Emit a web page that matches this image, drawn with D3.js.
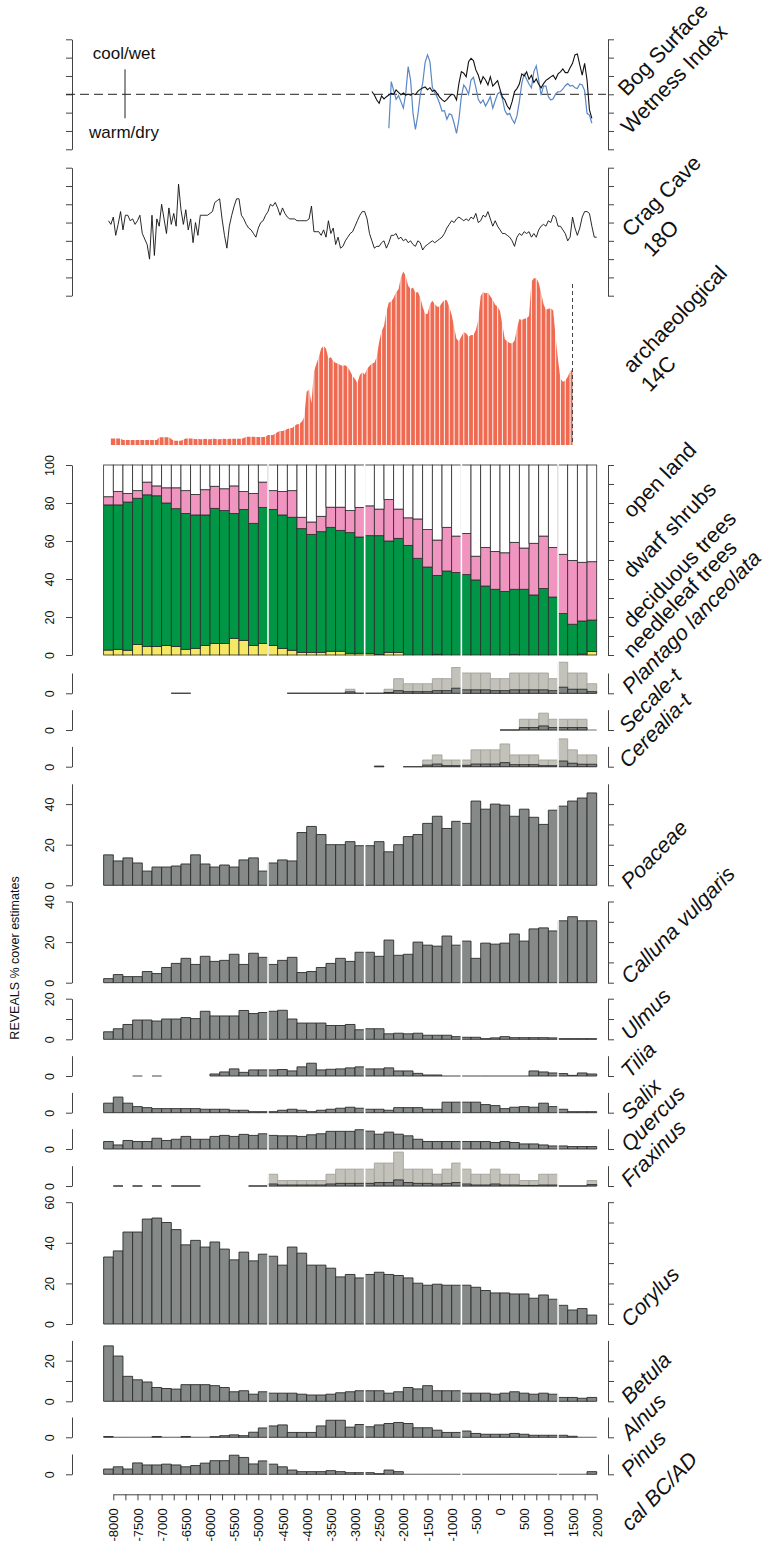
<!DOCTYPE html>
<html>
<head>
<meta charset="utf-8">
<script src="https://cdn.jsdelivr.net/npm/d3@7"></script>
<style>
body { margin: 0; background: #fff; }
svg { display: block; }
text { font-family: "Liberation Sans", Arial, sans-serif; fill: #111; }
</style>
</head>
<body>
<script>
// ---- data ----
// 200-yr bins, -8200 .. 2000
const binStart = d3.range(51).map(i => -8200 + 200 * i);

// bog surface wetness (50-yr steps from -2650)
const bogYears = d3.range(92).map(i => -2650 + 50 * i);
const bogBlack = [0.15,-0.04,-0.31,-0.49,-0.09,-0.25,-0.13,-0.04,0.05,0,
  0.24,0.11,-0.02,0.07,-0.04,0,-0.05,0.04,-0.02,0.16,
  0.27,0.35,0.4,0.25,0.36,0.16,0.22,0.04,-0.15,-0.29,
  -0.4,-0.29,-0.13,0,-0.04,-0.31,0.6,1.24,1.15,0.96,
  1.78,1.96,1.84,1.33,1.05,0.6,0.96,0.78,0.51,0.96,
  0.45,0.6,0.75,0.27,-0.16,-0.31,-0.64,-0.82,-0.4,0.15,
  0.31,0.56,1.11,1.0,1.22,0.82,1.04,0.64,0.84,0.55,
  0.35,0.58,0.76,0.85,0.95,1.04,0.82,1.11,1.22,1.38,
  1.18,1.18,1.45,1.69,2.15,2.2,1.6,1.05,1.69,0.78,
  -0.85,-1.31];
const bogBlueYears = d3.range(85).map(i => -2300 + 50 * i);
const bogBlue = [-1.85,0.69,0.2,-0.27,-0.07,-0.4,-0.76,0.05,1.51,0.78,
  -1.04,-1.91,-1.13,-0.04,0.6,1.73,2.15,1.78,0.38,0.09,
  -0.16,-0.49,-0.91,-0.89,-1.36,-1.07,-1.13,-1.58,-2.13,-1.36,
  -0.13,0.51,0.31,0,0.78,0.93,0.38,-0.27,-0.49,-0.31,
  -0.64,-0.4,-0.13,-0.76,-0.35,0.02,0.13,-0.24,-0.89,-1.11,
  -1.04,-1.36,-1.58,-1.18,-0.4,0.6,1.11,0.82,0.56,0.35,
  1.24,1.55,0.78,-0.04,0.45,0.45,-0.13,-0.31,-0.24,0.02,
  0.13,0.15,0.29,0.47,0.58,0.45,0.49,0.36,0.31,0.56,
  0.51,0.2,-1.04,-1.13,-1.58];

// Crag Cave 18O (50-yr steps from -8100)
const cragYears = d3.range(203).map(i => -8100 + 50 * i);
const crag = [4.1,3.9,4.3,3.3,3.9,4.6,3.6,4.4,4.4,4.1,
  4.2,3.9,4.1,4.4,3.4,3.1,2.8,2.0,4.4,2.2,
  4.2,3.8,5.0,4.2,3.4,4.8,3.9,4.5,3.8,6.1,
  4.7,3.9,4.7,3.6,4.2,2.9,4.0,3.3,4.4,4.4,
  4.4,4.4,4.5,4.6,5.1,5.2,5.3,4.2,3.3,2.6,
  3.8,4.4,4.9,5.3,5.3,4.4,4.2,3.9,3.7,3.6,
  3.4,3.2,3.7,4.0,4.1,4.4,4.6,5.0,4.9,5.1,
  4.8,4.4,4.8,4.5,4.3,4.2,4.2,4.2,4.1,4.1,
  4.1,4.1,4.1,4.2,4.9,3.5,3.5,3.5,3.3,3.6,
  3.2,4.1,3.4,3.7,2.8,3.2,2.6,2.7,3.0,3.2,
  3.4,3.5,3.8,4.1,4.4,4.6,4.6,4.2,3.4,3.0,
  2.6,2.7,2.7,2.9,3.0,2.6,2.9,3.3,3.3,3.4,
  3.1,3.2,3.0,3.1,2.9,3.0,2.8,2.7,3.0,2.9,
  2.5,2.7,2.8,2.9,3.0,2.9,3.0,3.1,3.2,3.4,
  3.7,3.9,4.1,4.0,4.2,4.3,4.2,4.1,4.2,4.1,
  4.3,4.2,4.5,4.0,4.1,4.4,4.3,4.6,4.2,3.8,
  4.1,3.8,3.6,3.4,3.4,3.3,3.2,3.0,2.7,3.2,
  3.4,3.3,3.5,3.4,3.5,3.2,3.4,3.2,3.6,3.8,
  3.9,3.8,4.1,4.0,4.4,4.3,3.8,3.8,3.6,3.4,
  3.0,3.2,4.3,3.7,3.3,3.7,4.3,4.6,4.6,4.5,
  3.8,3.2,3.2];

// archaeological 14C summed probability (50-yr steps from -8050)
const archYears = d3.range(192).map(i => -8050 + 50 * i);
const arch = [3.8,3.8,3.8,3.8,3.8,2.9,2.9,2.9,2.9,2.9,
  2.9,2.9,2.9,2.9,2.9,2.9,2.9,2.9,2.9,2.9,
  4.4,4.4,4.4,4.4,4.4,3.5,2.5,2.5,2.5,2.5,
  3.2,3.8,3.8,3.8,3.8,3.3,3.6,3.3,3.3,3.6,
  3.3,3.3,3.6,3.6,3.3,3.3,3.6,3.6,3.3,3.6,
  3.6,3.6,3.6,3.6,3.6,4.0,4.8,4.8,4.8,4.8,
  4.6,4.6,4.6,4.6,4.8,5.7,5.7,5.7,6.5,7.5,
  8.0,8.0,8.5,9.2,9.6,9.8,11.0,11.9,12.0,13.5,
  16.0,30.6,31.9,23.9,42.1,46.5,50.3,55.3,56.8,55.3,
  49.7,50.3,48.2,47.0,46.7,45.7,45.5,45.7,44.6,42.3,
  39.6,37.9,35.4,40.2,41.7,40.5,43.8,45.3,46.7,47.2,
  50.7,59.3,65.4,68.3,76.5,81.8,82.4,84.5,87.6,89.3,
  96.2,99.6,96.9,91.4,89.5,90.4,87.4,87.8,84.7,79.3,
  75.3,75.1,80.7,82.8,80.9,79.3,79.5,81.6,83.2,83.0,
  79.3,74.6,67.9,61.0,59.5,62.3,64.8,63.9,62.1,63.1,
  63.1,66.0,71.7,85.5,87.8,87.0,87.4,85.3,83.4,80.5,
  79.3,76.9,68.8,60.6,59.5,58.5,58.3,59.8,66.9,72.3,
  71.7,72.5,72.7,74.0,93.7,95.6,95.6,93.1,87.4,80.9,
  77.6,78.2,78.4,77.1,62.1,48.8,38.2,36.3,36.9,39.2,
  42.1,43.4];
const archEnd = 1500;

// land-cover groups (% cover)
const needleleaf = [2.6,3,2.5,5.5,4.5,4.5,5,4.5,3,3.5,5,6,6,8.8,7.7,5,6,
  5,3.5,2.5,1.4,1.4,1.4,2,2,0.9,0.9,
  0.8,0.3,1.4,1.4,0,0,0,0.4,0,0,
  0,0,0,0,0,0.3,0,0,0,0,
  0,0,0.5,1.8];
const deciduous = [76.4,76,78,77,79.8,79.3,75,72.5,71.5,70.2,68.7,71.2,70,65.7,68.9,64.3,71.7,
  71.6,70.2,70,65.1,62.1,63.5,65.2,63.6,63.5,61.2,
  62,62.5,58.6,60,57.7,50.9,46.3,41.5,44.2,43.4,
  42.3,39.5,36.3,34.6,33.5,34.3,34.6,31.6,35,30.5,
  21.8,16.2,17.4,16.6];
const dwarfShrubs = [4.3,7,4.5,4,6.7,5.2,8,11,12,10.8,13.3,11.6,11.5,14.5,9.4,15.7,13.3,
  9.9,12.3,14,6,6.5,8.1,10.6,12.2,11.6,15.6,
  15.7,14,21.8,15.4,14.5,20.7,19.7,18.6,23,19.2,
  21.7,12.5,20.3,19.9,20.3,24.7,21.7,27.2,27.6,26.1,
  31.2,33.6,30.9,30.7];
const openLand = [16.7,14,15,13.5,9,11,12,12,13.5,15.5,13,11.2,12.5,11,14,15,9,
  13.5,14,13.5,27.5,30,27,22.2,22.2,24,22.3,
  21.5,23.2,18.2,23.2,27.8,28.4,34,39.5,32.8,37.4,
  36,48,43.4,45.5,46.2,40.7,43.7,41.2,37.4,43.4,
  47,50.2,51.2,50.9];
const coverKeys = ["needleleaf", "deciduous", "dwarf", "open"];

// taxa (% cover); *X = exaggerated curve
const plantagoX = [null,null,null,null,null,null,null,0,0,null,null,null,null,null,null,null,null,
  null,null,0,0,0,0,0,0,2,0,
  0,0,2,7.2,4.7,4.7,4.7,7.2,7.2,12.7,
  10,10,10,7.2,7.2,10,10,10,10,7.2,
  15.3,10,10,4.7];
const plantago = [null,null,null,null,null,null,null,0,0,null,null,null,null,null,null,null,null,
  null,null,0,0,0,0,0,0,0.7,0,
  0,0,0.4,1.3,0.8,0.8,0.8,1.3,1.3,2.5,
  1.7,1.7,1.7,1.3,1.3,1.7,1.7,1.7,1.7,1.3,
  3,2,2,0.8];
const secaleX = [null,null,null,null,null,null,null,null,null,null,null,null,null,null,null,null,null,
  null,null,null,null,null,null,null,null,null,null,
  null,null,null,null,null,null,null,null,null,null,
  null,null,null,null,0,0,5.3,5.3,8.3,5.3,
  5.3,5.3,5.3,0];
const secale = [null,null,null,null,null,null,null,null,null,null,null,null,null,null,null,null,null,
  null,null,null,null,null,null,null,null,null,null,
  null,null,null,null,null,null,null,null,null,null,
  null,null,null,null,0,0,1.2,1.2,2,1.2,
  1.2,1.2,1.2,null];
const cerealiaX = [null,null,null,null,null,null,null,null,null,null,null,null,null,null,null,null,null,
  null,null,null,null,null,null,null,null,null,null,
  null,0,null,null,0,0,3.3,5.8,3.3,3.3,
  3.3,8.3,8.3,8.3,11.2,5.8,5.8,5.8,3.3,3.3,
  13.7,8.3,5.8,5.8];
const cerealia = [null,null,null,null,null,null,null,null,null,null,null,null,null,null,null,null,null,
  null,null,null,null,null,null,null,null,null,null,
  null,0.3,null,null,0,0,0.8,1.3,0.5,0.5,
  0.7,1.3,1.3,1.3,2,1,1,1,0.5,0.5,
  2.8,1.7,1.2,1.2];
const poaceae = [15,12,13.5,11,7,9,9,9.5,10.5,15,10.5,9,10,9,12.5,13.5,7,
  11,12.5,12,26,29,25,20,20,21.5,19.5,
  19.5,21.5,16.5,20,24,25,30.5,34,28,31.5,
  30.5,41.5,37.5,40,39.5,34,37.5,33.5,30,37,
  39,41.5,43,45.5];
const calluna = [2,4,3,3,5.5,4.5,7.5,9.5,12,9,13,10.5,11,14,9,14.5,12.5,
  9,11,12.5,5,5.5,7.5,9.5,12,10.5,15,
  15,13,21,13.5,14,20,18.5,18,23,18.5,
  20.5,12,19.5,19,19.5,24,20.5,26.5,27,25.5,
  30.5,32.5,30.5,30.5];
const ulmus = [3.7,5.2,7.3,9.5,9.5,9,10,10,10.7,10.2,13.8,11.5,11.5,11.5,14.2,12.7,13.2,
  13.8,14.3,10,8,8,8,6.8,6.8,7.3,4.7,
  5.2,5.2,2.7,3,2.7,3,2,2,2,1.3,
  1,1,0.3,0.7,1.3,0.8,0.8,0.8,0.8,0.7,
  0.3,0.3,0.3,0.3];
const tilia = [null,null,null,0,null,0,null,null,null,null,null,1,2,3.5,1.8,3,3,
  3,3.2,2.5,4.5,6.3,3,3.3,3.5,4,4.5,
  3.5,3.5,4,2.5,2.5,1.3,0.5,0.5,0,0,
  0,0,0,0,0,0,0,2.5,2,1.5,
  1.2,0.3,1.5,1];
const salix = [4.7,7.7,4.7,3,2.5,2,2,2,2,2,1.7,1.7,1.7,1.2,1.2,0.5,0.5,
  0.5,1.2,1.7,1.2,0.5,1.2,1.7,2.2,2.7,2.2,
  1.7,1.7,1.2,2.5,2.5,2.5,1.7,1.7,5.2,5.2,
  5.2,5.2,4,3.5,2,2.7,3,2.7,4.7,3,
  1.7,0.5,0.5,0.5];
const quercus = [3.7,2,4.2,3.7,3.7,5.3,4.2,4.8,6.2,4.8,4.8,6.2,6.7,6.2,7.2,6.7,7.5,
  6.7,6.5,6.5,6.2,7,7.5,8.7,8.7,8.7,9.5,
  8.8,7.3,8.3,7.3,6.5,4.8,3.7,3.7,3.7,3.7,
  3.7,3.7,3.7,3.2,3.7,3.2,2.5,2.5,2,1.5,
  1.5,1.2,1.2,1.2];
const fraxinusX = [null,0,null,0,null,0,null,0,0,0,null,null,null,null,null,0,0,
  5.8,2.7,2.7,2.7,2.7,2.7,5.8,8.3,8.3,8.3,
  8.3,11.3,11.3,16.7,8.3,8.3,8.3,5.8,8.3,11.3,
  8.3,5.8,5.8,8.3,5.8,5.8,2.7,2.7,5.8,5.8,
  0,0,0,2.7];
const fraxinus = [null,0,null,0,null,0,null,0,0,0,null,null,null,null,null,0,0,
  1,0.5,0.5,0.5,0.5,0.5,1,1.3,1.3,1.3,
  1.3,1.7,1.7,3,1.7,1.3,1.3,1,1.3,1.7,
  1,0.5,0.5,1,0.5,0.5,0.3,0.3,0.5,0.5,
  0,0,0,0.7];
const corylus = [33,36,45.3,45.3,51.7,52.2,50,46.5,39,41.2,37.9,40.4,36.9,31.6,35.4,31.1,34.4,
  33.4,29,37.9,34.9,29,29,27.5,23.2,24.4,22.7,
  24.4,25.5,24.4,23.9,22.7,20.1,19.1,19.6,19.1,19.1,
  19.1,18.1,16.5,15.3,15.3,14.8,14.8,12.7,14.3,12.2,
  9.2,6.9,7.6,4.4];
const betula = [27.3,22.3,12.3,10.6,9.5,6.8,6.3,6,8.2,8.2,8.2,7.7,6.8,4.7,5.2,3.5,4.7,
  4,4,4,3.5,3.1,3.1,3.5,4.2,4.7,5.2,
  5.2,5.2,4,4.7,6.8,6.1,7.7,5.2,5.2,5.2,
  4,4,4,3.5,4,4.7,4,3.5,4,3.5,
  1.9,1.9,1.5,1.9];
const alnus = [0.4,0,0,0,0,0.4,0,0,0.4,0,0,0.3,0.8,1.2,0.8,2.5,4.6,
  5.6,6.1,2.4,2.4,2.4,5.6,8.4,8.4,5,6.3,
  5.2,6.1,6.8,7.3,6.8,4.7,4.7,3.5,2.4,2.4,
  3.1,1.9,1.5,1.5,1.5,1.9,1.5,1,1,1,
  1,0.5,0,0];
const pinus = [2.6,3.7,2.6,5.6,4.6,4.6,5,4.6,3.7,4.3,5.5,6.7,6.7,9.4,8.3,5.1,6.6,
  5,3.7,2.1,1.3,1.3,1.3,1.8,1.3,0.8,0.8,
  0.8,0.3,2.1,1.3,0,0,0,0,0,0,
  0,0,0,0,0,0,0,0,0,0,
  0,0,0,1.3];

const xTicks = d3.range(-8000, 2001, 250);
const xLabels = d3.range(-8000, 2001, 500);

// ---- layout ----
const W = 767, H = 1547;
const xL = 72, xR = 608;
const pxPerPct = 2.03;
const svg = d3.select("body").append("svg").attr("width", W).attr("height", H);
const x = d3.scaleLinear().domain([-8000, 2000]).range([113.3, 596.7]);

function axes(y, leftTicks, leftLabels, rightTicks) {
  const gl = svg.append("g").attr("transform", `translate(${xL},0)`)
    .call(d3.axisLeft(y).tickValues(leftTicks).tickSize(6).tickSizeOuter(0)
      .tickFormat(d => leftLabels.includes(d) ? String(d) : ""));
  gl.selectAll("text").attr("transform", "rotate(-90)")
    .attr("x", 0).attr("y", -18).attr("dy", 0)
    .style("text-anchor", "middle").style("font-size", "12.5px").style("font-family", "Liberation Sans, Arial, sans-serif");
  const gr = svg.append("g").attr("transform", `translate(${xR},0)`)
    .call(d3.axisRight(y).tickValues(rightTicks).tickSize(6).tickSizeOuter(0).tickFormat(""));
  [gl, gr].forEach(g => g.selectAll("path,line").attr("stroke", "#444"));
}

function bars(vals, y, fill, stroke, zeroStroke) {
  svg.append("g").selectAll("path")
    .data(vals.map((v, i) => ({v, i})).filter(d => d.v !== null))
    .join("path")
    .attr("d", d => `M${x(binStart[d.i])},${y(0)}V${y(d.v)}H${x(binStart[d.i] + 200)}V${y(0)}Z`)
    .attr("fill", fill)
    .attr("stroke", d => d.v === 0 ? zeroStroke : stroke)
    .attr("stroke-width", 0.9);
}

// ---- bog surface wetness ----
const yBog = d3.scaleLinear().domain([-3, 3]).range([149.3, 39.3]);
axes(yBog, d3.range(-3, 4), [], d3.range(-3, 4));
svg.append("line").attr("x1", 66).attr("x2", 606).attr("y1", yBog(0)).attr("y2", yBog(0))
  .attr("stroke", "#222").attr("stroke-dasharray", "9,5");
svg.append("line").attr("x1", 125).attr("x2", 125).attr("y1", 69.3).attr("y2", 118.3).attr("stroke", "#222");
svg.append("text").attr("x", 124).attr("y", 59).attr("text-anchor", "middle").style("font-size", "17px").text("cool/wet");
svg.append("text").attr("x", 124).attr("y", 138).attr("text-anchor", "middle").style("font-size", "17px").text("warm/dry");
svg.append("path").datum(bogBlue)
  .attr("d", d3.line().x((d, i) => x(bogBlueYears[i])).y(d => yBog(d)))
  .attr("fill", "none").attr("stroke", "#5a87c6").attr("stroke-width", 1.2);
svg.append("path").datum(bogBlack)
  .attr("d", d3.line().x((d, i) => x(bogYears[i])).y(d => yBog(d)))
  .attr("fill", "none").attr("stroke", "#111").attr("stroke-width", 1.1);

// ---- Crag Cave ----
const yCrag = d3.scaleLinear().domain([0, 7]).range([295.7, 167.7]);
axes(yCrag, d3.range(0, 8), [], d3.range(0, 8));
svg.append("path").datum(crag)
  .attr("d", d3.line().x((d, i) => x(cragYears[i])).y(d => yCrag(d)))
  .attr("fill", "none").attr("stroke", "#111").attr("stroke-width", 0.9);

// ---- archaeological 14C ----
const yArch = d3.scaleLinear().domain([0, 100]).range([445, 270.7]);
svg.append("path").datum(arch)
  .attr("d", d3.area().x((d, i) => x(archYears[i])).y0(yArch(0)).y1(d => yArch(d)))
  .attr("fill", "#ef6a50");
svg.append("g").selectAll("line").data(d3.range(-7950, archEnd, 100)).join("line")
  .attr("x1", d => x(d)).attr("x2", d => x(d)).attr("y1", 268).attr("y2", yArch(0) + 1)
  .attr("stroke", "#fff").attr("stroke-width", 1.1).attr("opacity", 0.85);
svg.append("line").attr("x1", x(archEnd)).attr("x2", x(archEnd)).attr("y1", 284).attr("y2", yArch(0))
  .attr("stroke", "#444").attr("stroke-dasharray", "4,3");

// ---- land-cover stack ----
const yCov = d3.scaleLinear().domain([0, 100]).range([655, 465]);
axes(yCov, d3.range(0, 101, 20), d3.range(0, 101, 20), d3.range(0, 101, 10));
const coverRows = binStart.map((b, i) => ({
  i, needleleaf: needleleaf[i], deciduous: deciduous[i], dwarf: dwarfShrubs[i], open: openLand[i]
}));
const coverColor = {needleleaf: "#f5e864", deciduous: "#009646", dwarf: "#f094c0", open: "#ffffff"};
const stacked = d3.stack().keys(coverKeys)(coverRows);
stacked.forEach(layer => {
  svg.append("g").selectAll("rect").data(layer).join("rect")
    .attr("x", d => x(binStart[d.data.i]))
    .attr("width", d => x(binStart[d.data.i] + 200) - x(binStart[d.data.i]))
    .attr("y", d => yCov(d[1]))
    .attr("height", d => yCov(d[0]) - yCov(d[1]))
    .attr("fill", coverColor[layer.key])
    .attr("stroke", "#2b2b2b").attr("stroke-width", 0.8);
});

// ---- taxa panels ----
const taxa = [
  {vals: plantago, ex: plantagoX, y0: 693.3, max: 10, lt: [0], ll: [0], rt: [0]},
  {vals: secale, ex: secaleX, y0: 730, max: 10, lt: [0], ll: [0], rt: [0]},
  {vals: cerealia, ex: cerealiaX, y0: 766.7, max: 10, lt: [0], ll: [0], rt: [0]},
  {vals: poaceae, y0: 885.3, max: 50, lt: [0, 20, 40], ll: [0, 20, 40], rt: [0, 10, 20, 30, 40]},
  {vals: calluna, y0: 982.7, max: 40, lt: [0, 20, 40], ll: [0, 20, 40], rt: [0, 10, 20, 30, 40]},
  {vals: ulmus, y0: 1039.3, max: 20, lt: [0, 10, 20], ll: [0, 20], rt: [0, 10, 20]},
  {vals: tilia, y0: 1076, max: 10, lt: [0], ll: [0], rt: [0]},
  {vals: salix, y0: 1112.7, max: 10, lt: [0], ll: [0], rt: [0]},
  {vals: quercus, y0: 1149, max: 10, lt: [0], ll: [0], rt: [0]},
  {vals: fraxinus, ex: fraxinusX, y0: 1186, max: 10, lt: [0], ll: [0], rt: [0]},
  {vals: corylus, y0: 1324, max: 60, lt: [0, 20, 40, 60], ll: [0, 20, 40, 60], rt: [0, 10, 20, 30, 40, 50, 60]},
  {vals: betula, y0: 1401.3, max: 30, lt: [0, 10, 20], ll: [0, 20], rt: [0, 10, 20]},
  {vals: alnus, y0: 1437.3, max: 10, lt: [0], ll: [0], rt: [0]},
  {vals: pinus, y0: 1474.3, max: 10, lt: [0], ll: [0], rt: [0]}
];
taxa.forEach(t => {
  const y = d3.scaleLinear().domain([0, t.max]).range([t.y0, t.y0 - t.max * pxPerPct]);
  axes(y, t.lt, t.ll, t.rt);
  if (t.ex) {
    bars(t.ex, y, "#c2c2ba", "#a3a39c", "#9a9a94");
    bars(t.vals, y, "#7f8583", "#2b2b2b", "#444");
  } else {
    bars(t.vals, y, "#858a89", "#2b2b2b", "#7a7a7a");
  }
});

// white gaps between plotted blocks
svg.append("g").selectAll("line").data([17, 27, 37, 47]).join("line")
  .attr("x1", i => x(binStart[i])).attr("x2", i => x(binStart[i]))
  .attr("y1", 462).attr("y2", 1477)
  .attr("stroke", "#fff").attr("stroke-width", 1.6);

// ---- x axis ----
const gx = svg.append("g").attr("transform", "translate(0,1494.3)")
  .call(d3.axisBottom(x).tickValues(xTicks).tickSize(6).tickSizeOuter(0)
    .tickFormat(d => xLabels.includes(d) ? String(d) : ""));
gx.selectAll("path,line").attr("stroke", "#444");
gx.selectAll("text").attr("transform", "rotate(-90)").attr("x", -14).attr("y", 0).attr("dy", "0.35em")
  .style("text-anchor", "end").style("font-size", "13px").style("font-family", "Liberation Sans, Arial, sans-serif");

// ---- labels ----
svg.append("text").attr("transform", "translate(19,958) rotate(-90)").attr("text-anchor", "middle")
  .style("font-size", "12.5px").text("REVEALS % cover estimates");

const rightLabels = [
  ["Bog Surface", 627, 97, false],
  ["Wetness Index", 630, 135, false],
  ["Crag Cave", 631, 238, false],
  ["18O", 652, 258, false],
  ["archaeological", 632, 374, false],
  ["14C", 650, 393, false],
  ["open land", 632, 519, false],
  ["dwarf shrubs", 632, 579, false],
  ["deciduous trees", 632, 629, false],
  ["needleleaf trees", 632, 659, false],
  ["Plantago lanceolata", 631, 695, true],
  ["Secale-t", 628, 734, true],
  ["Cerealia-t", 628, 769, true],
  ["Poaceae", 630, 890, true],
  ["Calluna vulgaris", 630, 985, true],
  ["Ulmus", 630, 1041, true],
  ["Tilia", 630, 1079, true],
  ["Salix", 630, 1121, true],
  ["Quercus", 630, 1153, true],
  ["Fraxinus", 630, 1188, true],
  ["Corylus", 630, 1328, true],
  ["Betula", 630, 1405, true],
  ["Alnus", 630, 1441, true],
  ["Pinus", 630, 1478, true],
  ["cal BC/AD", 630, 1532, true]
];
svg.append("g").selectAll("text").data(rightLabels).join("text")
  .attr("transform", d => `translate(${d[1]},${d[2]}) rotate(-46)`)
  .style("font-size", "21.5px")
  .style("font-style", d => d[3] ? "italic" : "normal")
  .text(d => d[0]);
</script>
</body>
</html>
